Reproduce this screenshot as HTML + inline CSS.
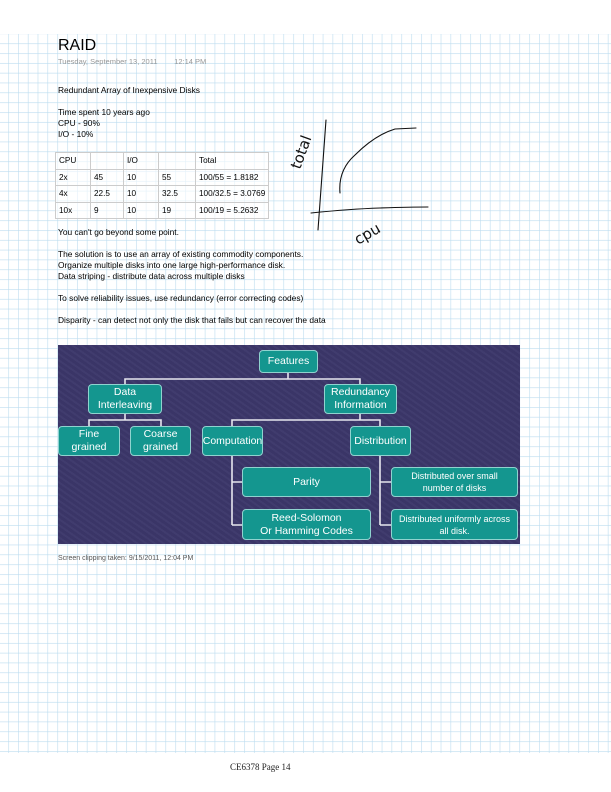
<!DOCTYPE html>
<html><head><meta charset="utf-8"><style>
*{margin:0;padding:0}
body{width:611px;height:792px;position:relative;background:#fff;overflow:hidden;font-family:"Liberation Sans",sans-serif}
.t{position:absolute;font-size:8.4px;color:#000;white-space:nowrap;line-height:11px}
.n{position:absolute;background:#14968f;border:1px solid #8fd3cf;border-radius:4px;color:#fff;font-size:10.5px;display:flex;align-items:center;justify-content:center;text-align:center;line-height:13px;box-sizing:border-box}
.s{font-size:9px;line-height:12px}
table{position:absolute;left:55px;top:152px;border-collapse:collapse;font-size:8.2px;table-layout:fixed;width:213px}
td{border:1px solid #ccc;height:15.5px;padding:0 0 0 3px;background:rgba(255,255,255,.6);white-space:nowrap;overflow:hidden}
</style></head><body>
<svg style="position:absolute;left:0;top:0" width="611" height="792">
<defs><pattern id="g" x="8.2" y="4" width="9.83" height="9.83" patternUnits="userSpaceOnUse">
<path d="M0 0H9.83M0 0V9.83" stroke="#bcdcef" stroke-width="1.2" fill="none"/></pattern></defs>
<rect x="0" y="34" width="611" height="719" fill="url(#g)"/>
</svg>
<div class="t" style="left:58px;top:36px;font-size:16px;line-height:20px">RAID</div>
<div class="t" style="left:58px;top:56px;font-size:7.5px;color:#999">Tuesday, September 13, 2011&nbsp;&nbsp;&nbsp;&nbsp;&nbsp;&nbsp;&nbsp;&nbsp;12:14 PM</div>
<div class="t" style="left:58px;top:85px">Redundant Array of Inexpensive Disks</div>
<div class="t" style="left:58px;top:107px">Time spent 10 years ago<br>CPU - 90%<br>I/O - 10%</div>
<table>
<colgroup><col style="width:35px"><col style="width:33px"><col style="width:35px"><col style="width:37px"><col style="width:73px"></colgroup>
<tr><td>CPU</td><td></td><td>I/O</td><td></td><td>Total</td></tr>
<tr><td>2x</td><td>45</td><td>10</td><td>55</td><td>100/55 = 1.8182</td></tr>
<tr><td>4x</td><td>22.5</td><td>10</td><td>32.5</td><td>100/32.5 = 3.0769</td></tr>
<tr><td>10x</td><td>9</td><td>10</td><td>19</td><td>100/19 = 5.2632</td></tr>
</table>
<div class="t" style="left:58px;top:227px">You can't go beyond some point.</div>
<div class="t" style="left:58px;top:249px">The solution is to use an array of existing commodity components.<br>Organize multiple disks into one large high-performance disk.<br>Data striping - distribute data across multiple disks</div>
<div class="t" style="left:58px;top:293px">To solve reliability issues, use redundancy (error correcting codes)</div>
<div class="t" style="left:58px;top:315px">Disparity - can detect not only the disk that fails but can recover the data</div>
<svg style="position:absolute;left:0;top:0" width="611" height="792">
<g stroke="#111" fill="none" stroke-width="1.1" stroke-linecap="round">
<path d="M326 120 L318 230"/>
<path d="M311 213 Q350 209 380 208 T428 207"/>
<path d="M340 193 Q338 170 355 155 Q375 135 395 129 L416 128"/>
</g>
<text x="300" y="170" transform="rotate(-70 300 170)" font-family="DejaVu Sans" font-size="15" fill="#111">total</text>
<text x="358" y="245" transform="rotate(-30 358 245)" font-family="DejaVu Sans" font-size="15" fill="#111">cpu</text>
</svg>
<div style="position:absolute;left:58px;top:345px;width:462px;height:199px;background:#3c376a;background-image:repeating-linear-gradient(35deg,rgba(255,255,255,.025) 0 2px,rgba(0,0,0,.03) 2px 5px)"></div>
<svg style="position:absolute;left:0;top:0" width="611" height="792">
<g stroke="#e6e6ee" stroke-width="1.6" fill="none">
<path d="M288 373V379M125 384V379H360V384"/>
<path d="M125 414V420M89 426V420H161V426"/>
<path d="M360 414V420M232 426V420H380V426"/>
<path d="M232 456V525M232 482H242M232 525H242"/>
<path d="M380 456V525M380 482H391M380 525H391"/>
</g></svg>
<div class="n" style="left:259px;top:350px;width:59px;height:23px">Features</div>
<div class="n" style="left:88px;top:384px;width:74px;height:30px">Data<br>Interleaving</div>
<div class="n" style="left:324px;top:384px;width:73px;height:30px">Redundancy<br>Information</div>
<div class="n" style="left:58px;top:426px;width:62px;height:30px">Fine<br>grained</div>
<div class="n" style="left:130px;top:426px;width:61px;height:30px">Coarse<br>grained</div>
<div class="n" style="left:202px;top:426px;width:61px;height:30px">Computation</div>
<div class="n" style="left:350px;top:426px;width:61px;height:30px">Distribution</div>
<div class="n" style="left:242px;top:467px;width:129px;height:30px">Parity</div>
<div class="n" style="left:242px;top:509px;width:129px;height:31px">Reed-Solomon<br>Or Hamming Codes</div>
<div class="n s" style="left:391px;top:467px;width:127px;height:30px">Distributed over small<br>number of disks</div>
<div class="n s" style="left:391px;top:509px;width:127px;height:31px">Distributed uniformly across<br>all disk.</div>
<div class="t" style="left:58px;top:553px;font-size:7px;color:#555">Screen clipping taken: 9/15/2011, 12:04 PM</div>
<div class="t" style="left:230px;top:762px;font-family:'Liberation Serif',serif;font-size:9px;color:#222">CE6378 Page 14</div>
</body></html>
